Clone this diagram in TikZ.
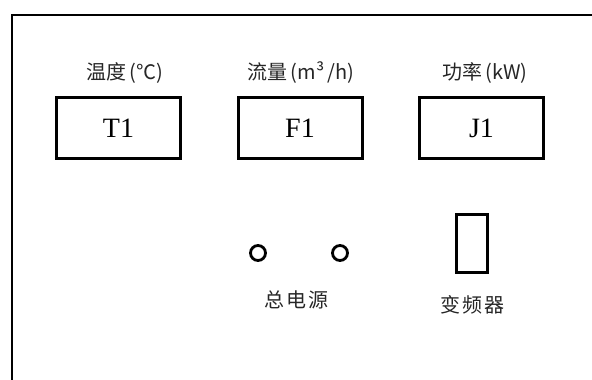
\documentclass[tikz,border=0pt]{standalone}
\usepackage{fontspec}
\setmainfont{Liberation Serif}
\newfontfamily\cjk{Noto Sans CJK SC}
\begin{document}
\begin{tikzpicture}[x=1pt,y=-1pt,
  meter/.style={draw,line width=3pt,minimum width=124pt,minimum height=61pt,inner sep=0pt,font=\fontsize{28}{28}\selectfont},
  lbl/.style={font=\cjk\fontsize{20}{20}\selectfont,inner sep=0pt,text=black!85},
  knob/.style={draw,circle,line width=2.8pt,minimum size=15pt,inner sep=0pt}]
\useasboundingbox (0,0) rectangle (592,380);
\draw[line width=2.5pt] (12,400) -- (12,15) -- (610,15);
\node[meter] (t1) at (118.5,128) {T1};
\node[meter] (f1) at (300,128) {F1};
\node[meter] (j1) at (481.5,128) {J1};
\node[lbl] (lt) at (125,73) {温度\,(℃)};
\node[lbl] (lf) at (301,73) {流量\,(m³\,/h)};
\node[lbl] (lj) at (485,73) {功率\,(kW)};
\node[knob] (k1) at (258,253) {};
\node[knob] (k2) at (340,253) {};
\node[lbl] (lp) at (296,300) {总\hspace{2pt}电\hspace{2pt}源};
\node[draw,line width=3pt,minimum width=31pt,minimum height=58pt,inner sep=0pt] (vf) at (471.5,243) {};
\node[lbl] (lv) at (472,305) {变\hspace{2pt}频\hspace{2pt}器};
\end{tikzpicture}
\end{document}
